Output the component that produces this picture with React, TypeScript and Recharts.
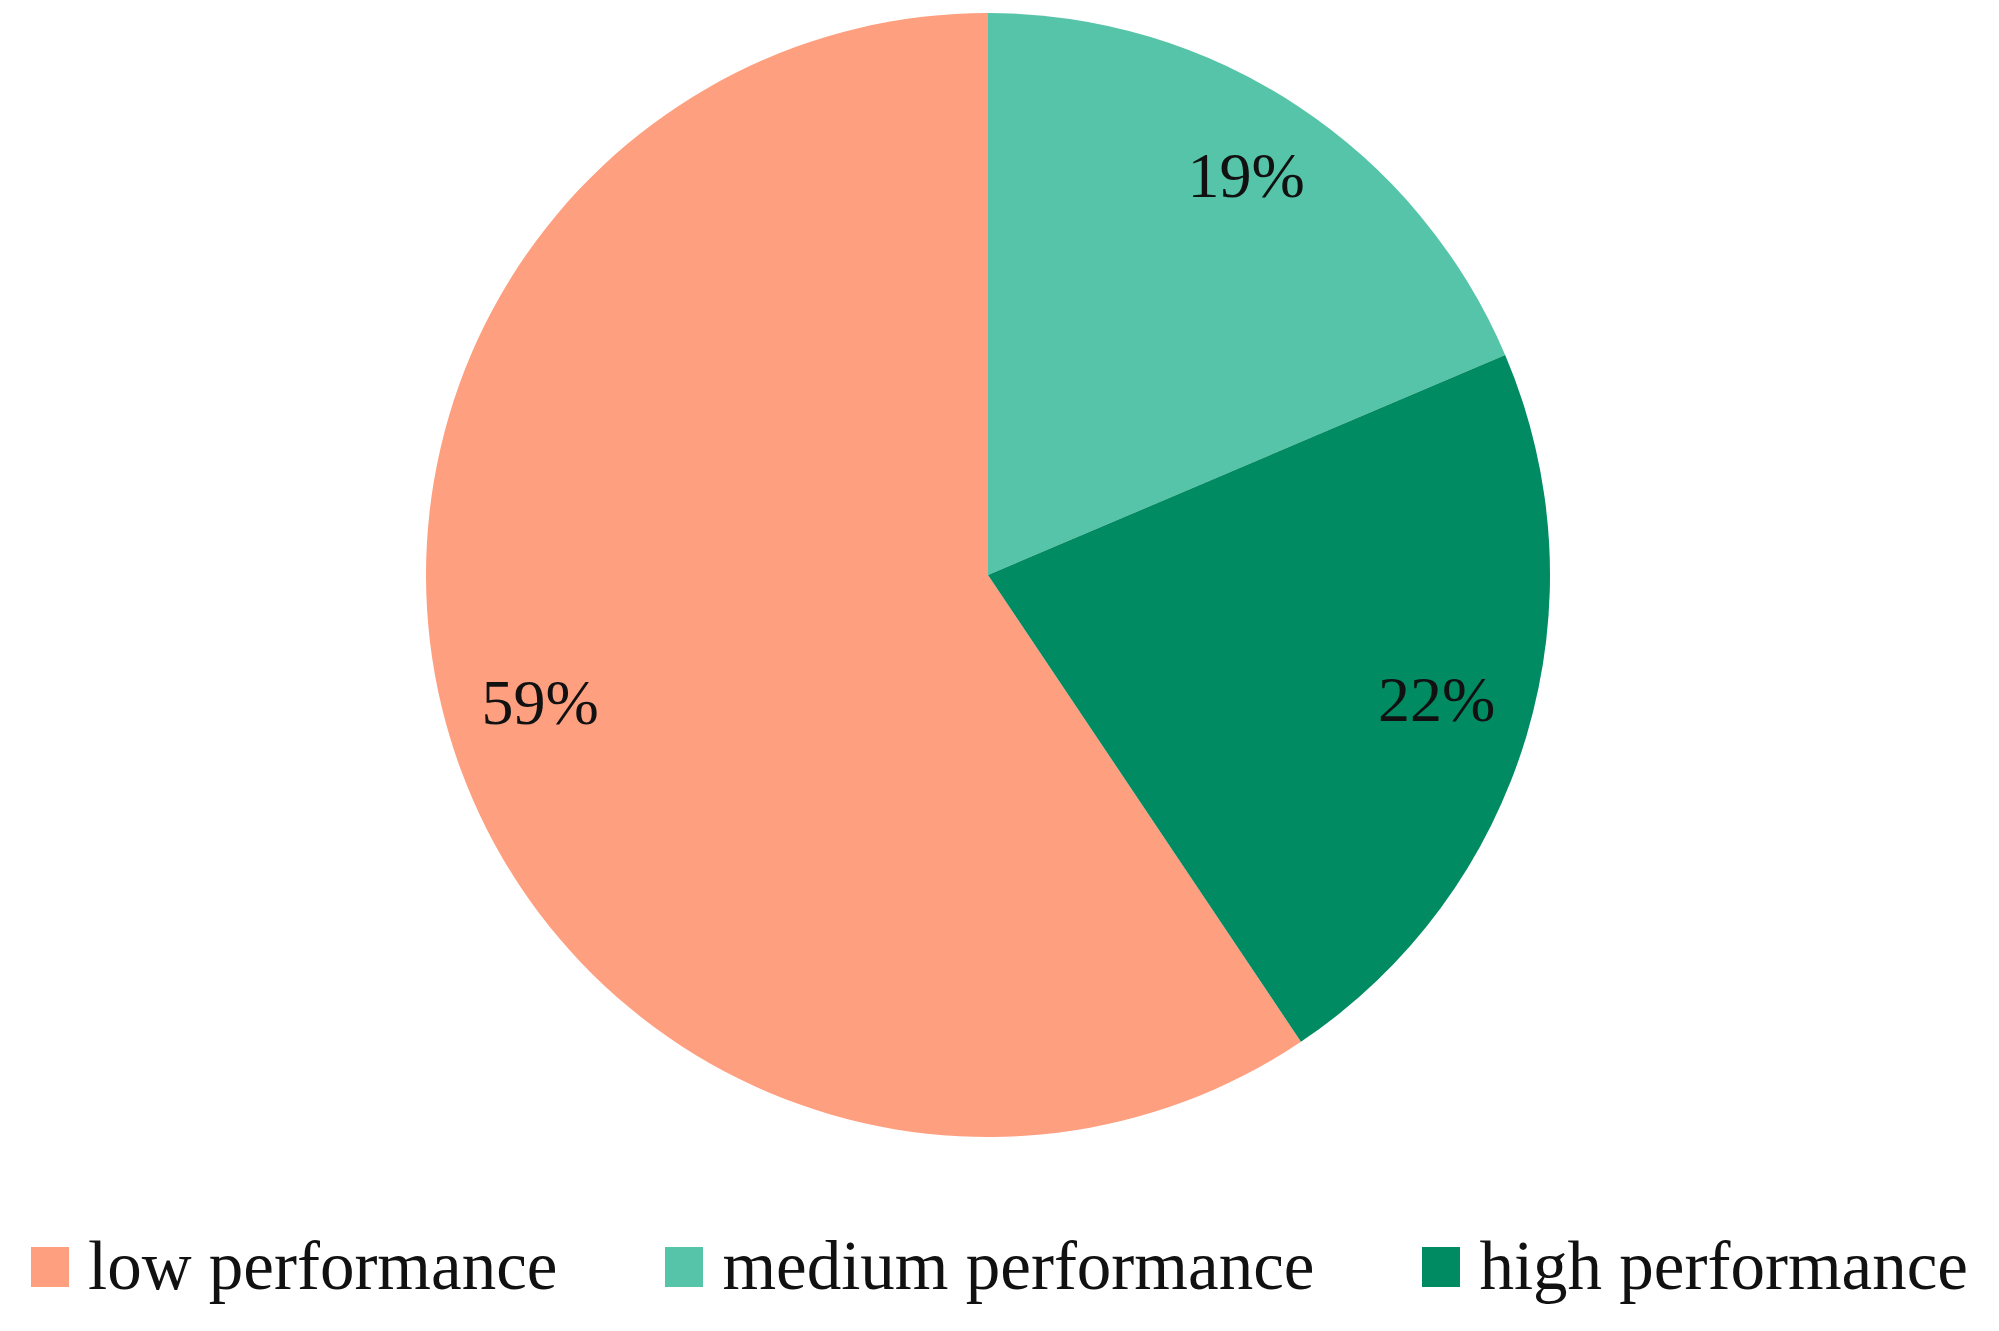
import { PieChart, Pie, Cell, Legend } from "recharts";

const categories = ["low performance", "medium performance", "high performance"];
const shares = [59.4, 18.6, 22.0];

const COLORS = [
  "#FE9F80", // salmon
  "#56C4A8", // light teal
  "#008B62"  // dark green
];

const data = categories.map((name, i) => ({ name, value: shares[i] }));

const total = shares.reduce((s, v) => s + v, 0);
// "low" ends at 12 o'clock, slices run clockwise
const startAngle = 90 + (shares[0] / total) * 360;
const endAngle = startAngle - 360;

const FONT = '"Liberation Serif", "DejaVu Serif", serif';
const RADIAN = Math.PI / 180;

const renderLabel = (props: any) => {
  const { cx, cy, midAngle, outerRadius, value } = props;
  const r = outerRadius * 0.833;
  const x = cx + r * Math.cos(-midAngle * RADIAN);
  const y = cy + r * Math.sin(-midAngle * RADIAN);
  return (
    <text
      x={x}
      y={y}
      dy={-9}
      textAnchor="middle"
      dominantBaseline="central"
      fill="#111"
      style={{ fontFamily: FONT, fontSize: 64 }}
    >
      {`${Math.round(value)}%`}
    </text>
  );
};

const renderLegend = () => (
  <div
    style={{
      display: "flex",
      justifyContent: "center",
      alignItems: "center",
      gap: 108,
      width: 1999,
      fontFamily: FONT,
      fontSize: 69,
      lineHeight: "69px",
      color: "#111"
    }}
  >
    {categories.map((name, i) => (
      <div key={name} style={{ display: "flex", alignItems: "center", gap: 19 }}>
        <span style={{ width: 38, height: 40, backgroundColor: COLORS[i], display: "inline-block" }} />
        <span>{name}</span>
      </div>
    ))}
  </div>
);

export default function App() {
  return (
    <div style={{ position: "absolute", left: 0, top: 0, width: 1999, height: 1331, background: "#fff" }}>
      <PieChart width={1999} height={1331} margin={{ top: 0, right: 0, bottom: 0, left: 0 }}>
        <Pie
          data={data}
          dataKey="value"
          cx={988}
          cy={575}
          outerRadius={562}
          startAngle={startAngle}
          endAngle={endAngle}
          stroke="none"
          label={renderLabel}
          labelLine={false}
          isAnimationActive={false}
        >
          {data.map((_, i) => (
            <Cell key={`cell-${i}`} fill={COLORS[i]} />
          ))}
        </Pie>
        <Legend
          content={renderLegend}
          wrapperStyle={{ position: "absolute", left: 0, top: 1232, width: 1999 }}
        />
      </PieChart>
    </div>
  );
}
